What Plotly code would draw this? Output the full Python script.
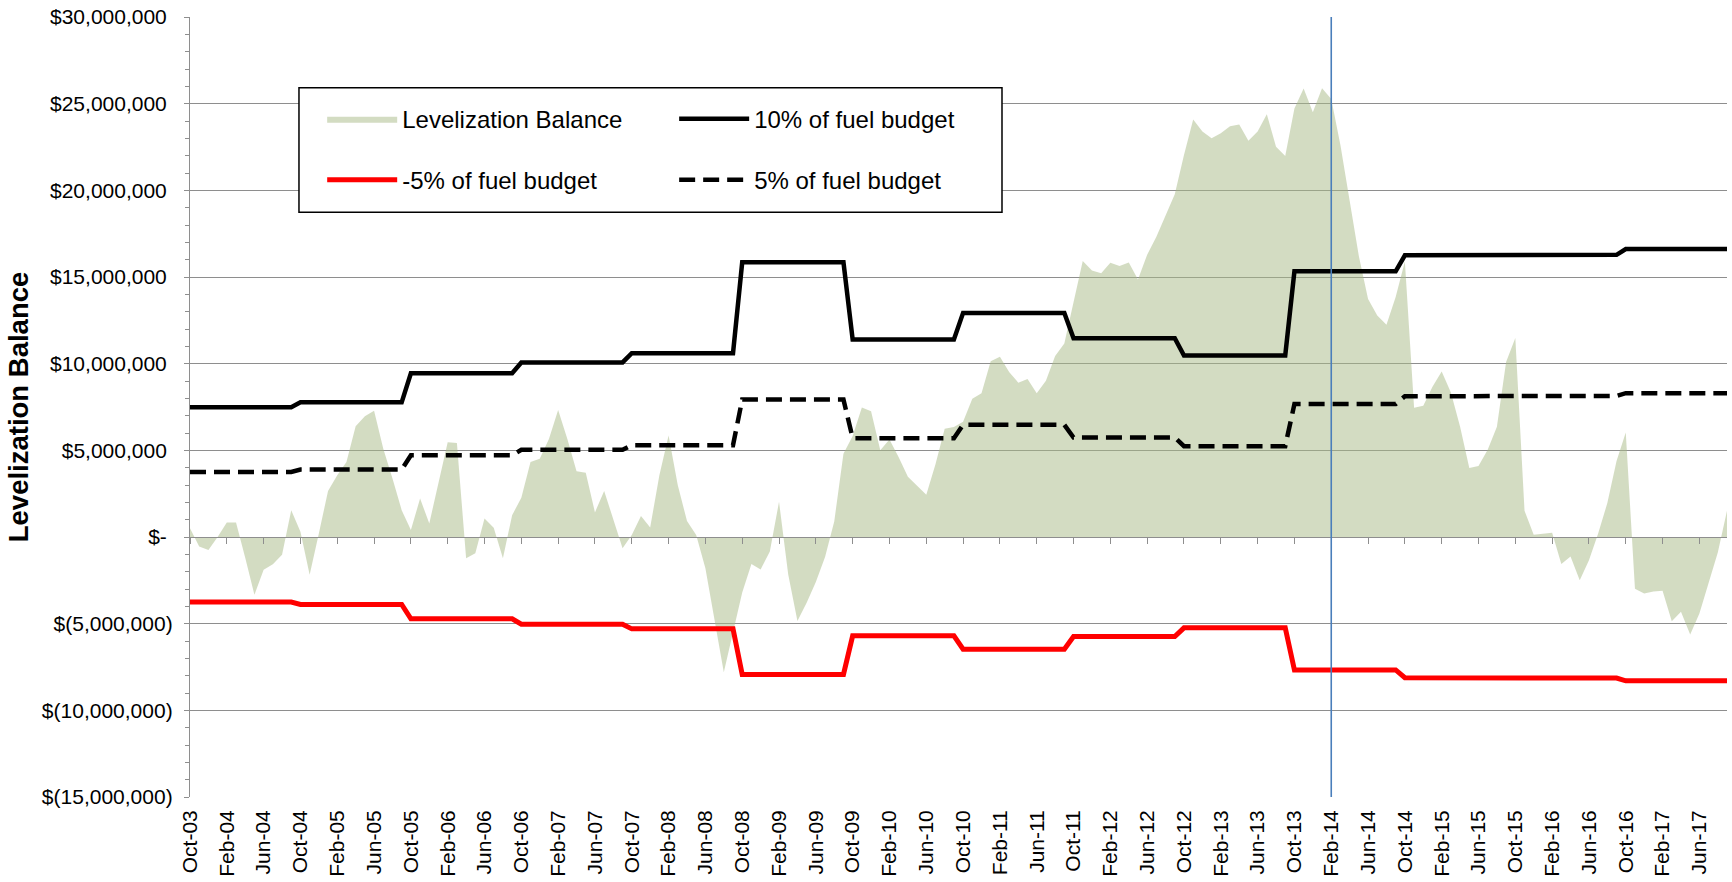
import numpy as np
import pandas as pd
import plotly.graph_objects as go

# ---------------- data ----------------
months = list(pd.date_range("2003-10-01", "2017-09-01", freq="MS").strftime("%b-%y"))
tick_labels = months[::4]

# Levelization balance, $ millions, Oct-03 .. Sep-17
balance = [
    0.5, -0.55, -0.75, 0.0, 0.84, 0.84, -1.2, -3.33, -1.89, -1.57, -1.03, 1.55,
    0.31, -2.18, 0.2, 2.66, 3.56, 4.32, 6.39, 6.97, 7.29, 5.09, 3.37, 1.55,
    0.40, 2.22, 0.78, 3.18, 5.47, 5.42, -1.22, -0.94, 1.07, 0.54, -1.22, 1.26,
    2.26, 4.32, 4.52, 5.66, 7.33, 5.66, 3.79, 3.71, 1.42, 2.66, 0.98, -0.65,
    0.11, 1.21, 0.55, 3.56, 5.86, 2.99, 0.92, 0.11, -1.8, -4.8, -7.8, -5.5,
    -3.2, -1.56, -1.87, -0.84, 2.03, -2.17, -4.84, -3.8, -2.6, -1.15, 0.9, 4.8,
    5.83, 7.47, 7.26, 5.0, 5.62, 4.6, 3.47, 2.95, 2.44, 4.19, 6.24, 6.34,
    6.65, 7.98, 8.29, 10.14, 10.40, 9.52, 8.90, 9.11, 8.29, 9.01, 10.44, 11.16,
    13.52, 15.92, 15.37, 15.22, 15.82, 15.63, 15.84, 14.86, 16.29, 17.32, 18.55, 19.78,
    22.04, 24.09, 23.4, 23.0, 23.3, 23.7, 23.8, 22.86, 23.4, 24.39, 22.52, 21.98,
    24.72, 25.87, 24.5, 25.89, 25.27, 22.6, 19.4, 16.2, 13.73, 12.78, 12.25, 13.84,
    15.9, 7.46, 7.57, 8.67, 9.55, 8.34, 6.36, 3.98, 4.09, 5.04, 6.36, 10.10,
    11.48, 1.52, 0.13, 0.2, 0.24, -1.56, -1.12, -2.49, -1.34, 0.2, 1.96, 4.38,
    6.03, -2.99, -3.26, -3.15, -3.1, -4.86, -4.31, -5.63, -4.42, -2.66, -0.9, 1.52,
]

# fiscal-year (Oct-Sep) levels, $ millions
fiscal_years = ["FY04", "FY05", "FY06", "FY07", "FY08", "FY09", "FY10",
                "FY11", "FY12", "FY13", "FY14", "FY15", "FY16", "FY17"]
ten_pct_levels = [7.49, 7.77, 9.45, 10.07, 10.60, 15.85, 11.40,
                  12.93, 11.47, 10.47, 15.33, 16.25, 16.28, 16.61]
five_pct_levels = [3.75, 3.89, 4.72, 5.03, 5.30, 7.93, 5.70,
                   6.47, 5.74, 5.24, 7.67, 8.12, 8.14, 8.30]
neg_five_pct_levels = [-3.75, -3.89, -4.72, -5.03, -5.30, -7.93, -5.70,
                       -6.47, -5.74, -5.24, -7.67, -8.12, -8.14, -8.30]

ten_pct = np.repeat(ten_pct_levels, 12)
five_pct = np.repeat(five_pct_levels, 12)
neg_five_pct = np.repeat(neg_five_pct_levels, 12)

y_tickvals = [30, 25, 20, 15, 10, 5, 0, -5, -10, -15]
y_ticktext = ["$30,000,000\u00a0", "$25,000,000\u00a0", "$20,000,000\u00a0", "$15,000,000\u00a0",
              "$10,000,000\u00a0", "$5,000,000\u00a0", "$-\u00a0", "$(5,000,000)",
              "$(10,000,000)", "$(15,000,000)"]
marker_month = "Feb-14"

# ---------------- figure ----------------
FONT = "Arial, 'Liberation Sans', sans-serif"
GRID = "#8e8e8e"

fig = go.Figure()
fig.add_trace(go.Scatter(
    x=months, y=balance, mode="lines", line=dict(width=0, color="rgba(167,185,133,0.5)"),
    fill="tozeroy", fillcolor="rgba(167,185,133,0.5)",
    name="Levelization Balance", legend="legend", legendgroup="a", xaxis="x", yaxis="y"))
fig.add_trace(go.Scatter(
    x=months, y=ten_pct, mode="lines", line=dict(width=4.5, color="black"),
    name="10% of fuel budget", legend="legend2", legendgroup="b", xaxis="x2", yaxis="y"))
fig.add_trace(go.Scatter(
    x=months, y=neg_five_pct, mode="lines", line=dict(width=5, color="#ff0000"),
    name="-5% of fuel budget", legend="legend", legendgroup="c", xaxis="x2", yaxis="y"))
fig.add_trace(go.Scatter(
    x=months, y=five_pct, mode="lines", line=dict(width=4.5, color="black", dash="16px,8px"),
    name="5% of fuel budget", legend="legend2", legendgroup="d", xaxis="x2", yaxis="y"))

common_x = dict(type="category", categoryorder="array", categoryarray=months,
                range=[0, len(months) - 1], fixedrange=True)

fig.update_layout(
    width=1732, height=882,
    margin=dict(l=190, r=5, t=17, b=83),
    paper_bgcolor="white", plot_bgcolor="white",
    font=dict(family=FONT, color="black", size=21),
    showlegend=True,
    xaxis=dict(**common_x, anchor="y", tickmode="array", tickvals=tick_labels, ticktext=tick_labels,
               tickangle=-90, tickfont=dict(size=21), ticks="", showgrid=False,
               showline=False, zeroline=False, ticklabelstandoff=8),
    xaxis2=dict(**common_x, overlaying="x", anchor="free", position=1/3, side="bottom",
                tickmode="array", tickvals=tick_labels, showticklabels=False,
                ticks="outside", ticklen=6, tickwidth=1.3, tickcolor=GRID,
                showline=True, linecolor=GRID, linewidth=1.3, showgrid=False, zeroline=False),
    yaxis=dict(range=[-15, 30], tickmode="array", tickvals=y_tickvals, ticktext=y_ticktext,
               tickfont=dict(size=21), showgrid=True, gridcolor=GRID, gridwidth=1.3,
               zeroline=False, showline=True, linecolor=GRID, linewidth=1.3,
               ticks="outside", ticklen=5, tickwidth=1.3, tickcolor=GRID, ticklabelstandoff=7,
               minor=dict(dtick=1, ticks="outside", ticklen=4, tickwidth=1.2, tickcolor=GRID,
                          showgrid=False),
               title=dict(text="<b>Levelization Balance</b>", font=dict(size=27.5), standoff=5),
               fixedrange=True),
    legend=dict(x=0.086, y=0.898, xanchor="left", yanchor="top", orientation="v",
                bgcolor="rgba(0,0,0,0)", borderwidth=0, font=dict(size=24),
                tracegroupgap=27, itemwidth=70, traceorder="grouped"),
    legend2=dict(x=0.315, y=0.898, xanchor="left", yanchor="top", orientation="v",
                 bgcolor="rgba(0,0,0,0)", borderwidth=0, font=dict(size=24),
                 tracegroupgap=27, itemwidth=70, traceorder="grouped"),
    shapes=[
        dict(type="rect", xref="paper", yref="paper", x0=0.0709, x1=0.5283, y0=0.7497, y1=0.9093,
             line=dict(color="black", width=1.5), fillcolor="white", layer="above"),
        dict(type="line", xref="x", yref="paper", x0=marker_month, x1=marker_month, y0=0, y1=1,
             line=dict(color="#4a7ebb", width=1.6), layer="above"),
    ],
)

fig.write_html("out.html", include_plotlyjs=True, config={"displayModeBar": False},
               post_script="document.body.style.margin='0';document.body.style.overflow='hidden';")
